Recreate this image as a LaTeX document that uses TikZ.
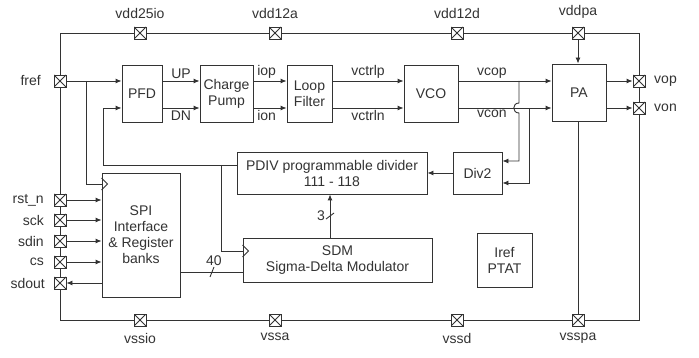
\documentclass[tikz,border=0pt]{standalone}
\usepackage{fontspec}
\setmainfont{Liberation Sans}
\usepackage{tikz}
\usetikzlibrary{arrows.meta}

\tikzset{
 pad/.style={draw, fill=white, minimum size=12pt, inner sep=0pt,
  path picture={\draw (path picture bounding box.south west) -- (path picture bounding box.north east)
   (path picture bounding box.north west) -- (path picture bounding box.south east);}},
 blk/.style={draw, fill=white, align=center, inner sep=0pt},
 sig/.style={-{Latex[length=6pt,width=5pt]}},
 lbl/.style={inner sep=2pt}
}

\begin{document}
\begin{tikzpicture}[x=1pt, y=-1pt, line width=0.9pt, color=black!80,
  font=\fontsize{14}{16}\selectfont]

 \useasboundingbox (0,0) rectangle (699,358);

 % Pads on the top side
 \node [pad, label={[label distance=4pt]above:vdd25io}] (vdd25io) at (140,33) {};
 \node [pad, label={[label distance=4pt]above:vdd12a}] (vdd12a) at (275,33) {};
 \node [pad, label={[label distance=4pt]above:vdd12d}] (vdd12d) at (457,33) {};
 \node [pad, label={[label distance=4pt]above:vddpa}] (vddpa) at (578,33) {};

 % Pads on the bottom side
 \node [pad, label={[label distance=3pt]below:vssio}] (vssio) at (140,320) {};
 \node [pad, label={[label distance=3pt]below:vssa}] (vssa) at (275,320) {};
 \node [pad, label={[label distance=3pt]below:vssd}] (vssd) at (457,320) {};
 \node [pad, label={[label distance=3pt]below:vsspa}] (vsspa) at (578,320) {};

 % Pads on the left side
 \node [pad, label={[label distance=9pt]left:fref}] (fref) at (60,81) {};
 \node [pad, label={[label distance=6pt]left:rst\_n}] (rstn) at (60,200) {};
 \node [pad, label={[label distance=6pt]left:sck}] (sck) at (60,220) {};
 \node [pad, label={[label distance=6pt]left:sdin}] (sdin) at (60,241) {};
 \node [pad, label={[label distance=6pt]left:cs}] (cs) at (60,262) {};
 \node [pad, label={[label distance=5pt]left:sdout}] (sdout) at (60,283) {};

 % Pads on the right side
 \node [pad, label={[label distance=5pt]right:vop}] (vop) at (639,81) {};
 \node [pad, label={[label distance=5pt]right:von}] (von) at (639,108) {};

 % Supply ring
 \draw (fref) |- (vdd25io) -- (vdd12a) -- (vdd12d) -- (vddpa) -| (vop);
 \draw (vop) -- (von) |- (vsspa);
 \draw (sdout) |- (vssio) -- (vssa) -- (vssd) -- (vsspa);
 \draw (fref) -- (rstn) -- (sck) -- (sdin) -- (cs) -- (sdout);

 % Blocks of the PLL
 \node [blk, minimum width=40pt, minimum height=57pt] (pfd) at (142,93.5) {PFD};
 \node [blk, minimum width=53pt, minimum height=57pt] (cp) at (226.5,93.5) {Charge\\Pump};
 \node [blk, minimum width=45pt, minimum height=57pt] (lf) at (309.5,93.5) {Loop\\Filter};
 \node [blk, minimum width=54pt, minimum height=57pt] (vco) at (431,93.5) {VCO};
 \node [blk, minimum width=54pt, minimum height=57pt] (pa) at (579,92.5) {PA};
 \node [blk, minimum width=190pt, minimum height=42pt] (pdiv) at (332,173) {PDIV programmable divider\\111 - 118};
 \node [blk, minimum width=49pt, minimum height=42pt] (div2) at (477.5,173) {Div2};
 \node [blk, minimum width=78pt, minimum height=124pt] (spi) at (141,235) {SPI\\Interface\\\& Register\\banks};
 \node [blk, minimum width=189pt, minimum height=44pt] (sdm) at (337.5,260) {SDM\\Sigma-Delta Modulator};
 \node [blk, minimum width=55pt, minimum height=54pt] (iref) at (504.5,260) {Iref\\PTAT};

 % Levels of the two signal rows
 \coordinate (hi) at (0,81);
 \coordinate (lo) at (0,108);

 % Forward path
 \draw [sig] (fref) -- (pfd.west |- hi);
 \draw [sig] (pfd.east |- hi) -- (cp.west |- hi) node [lbl, midway, above] {UP};
 \draw [sig] (pfd.east |- lo) -- (cp.west |- lo) node [lbl, midway, below] {DN};
 \draw [sig] (cp.east |- hi) -- (lf.west |- hi) node [lbl, pos=0.4, above] {iop};
 \draw [sig] (cp.east |- lo) -- (lf.west |- lo) node [lbl, pos=0.4, below] {ion};
 \draw [sig] (lf.east |- hi) -- (vco.west |- hi) node [lbl, midway, above] {vctrlp};
 \draw [sig] (lf.east |- lo) -- (vco.west |- lo) node [lbl, midway, below] {vctrln};
 \draw [sig] (vco.east |- hi) -- (pa.west |- hi) node [lbl, pos=0.36, above] {vcop};
 \draw [sig] (vco.east |- lo) -- (pa.west |- lo) node [lbl, pos=0.36, below] {vcon};

 % PA supply and outputs
 \draw [sig] (vddpa) -- (pa.north -| vddpa);
 \draw [sig] (pa.east |- vop) -- (vop);
 \draw [sig] (pa.east |- von) -- (von);
 \draw (pa.south -| vsspa) -- (vsspa);

 % VCO outputs down to Div2 (hop over vcon)
 \coordinate (tapp) at (519,81);
 \coordinate (tapn) at (529,108);
 \draw [sig] (tapp) -- (519,103) .. controls (512,103) and (512,113) .. (519,113)
  |- ([yshift=12pt]div2.east);
 \draw [sig] (tapn) |- ([yshift=-10pt]div2.east);
 \draw [sig] (div2) -- (pdiv);

 % Divider output back to PFD and SDM clock
 \coordinate (fb) at (103,165);
 \coordinate (fbtap) at (221,165);
 \coordinate (sdmclk) at (sdm.west |- 0,251);
 \draw [sig] ([yshift=8pt]pdiv.west) -- (fb) |- (pfd.west |- lo);
 \draw (fbtap) |- (sdmclk);
 \draw (sdmclk) ++(0,-6) -- ++(6,6) -- ++(-6,6);

 % Reference clock to SPI
 \coordinate (reftap) at (86,81);
 \coordinate (spiclk) at (spi.west |- 0,184);
 \draw (reftap) |- (spiclk);
 \draw (spiclk) ++(0,-6) -- ++(6,6) -- ++(-6,6);

 % SPI pins
 \foreach \p in {rstn,sck,sdin,cs}
  \draw [sig] (\p) -- (spi.west |- \p);
 \draw [sig] (spi.west |- sdout) -- (sdout);

 % 40 bit bus SPI to SDM
 \draw (spi.east |- 0,272) -- (sdm.west |- 0,272);
 \draw (212,272) ++(-2,5) -- ++(4,-10);
 \node at (214,261) {40};

 % 3 bit bus SDM to PDIV
 \draw [sig] (sdm.north -| 330,0) -- (pdiv.south -| 330,0);
 \draw (330,216) ++(-4,3) -- ++(8,-6);
 \node at (321,216) {3};

\end{tikzpicture}
\end{document}
